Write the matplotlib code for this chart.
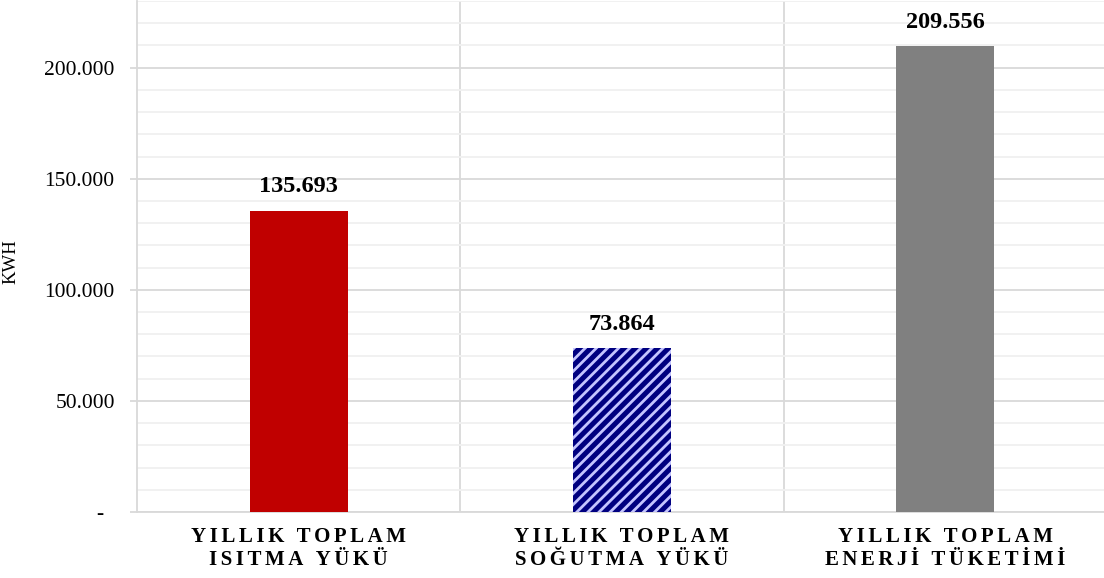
import matplotlib

matplotlib.use("Agg")
import matplotlib.pyplot as plt
from matplotlib.ticker import FuncFormatter, MultipleLocator

categories = ["YILLIK TOPLAM\nISITMA YÜKÜ", "YILLIK TOPLAM\nSOĞUTMA YÜKÜ", "YILLIK TOPLAM\nENERJİ TÜKETİMİ"]
values = [135693, 73864, 209556]
colors = ["#C00000", "#000080", "#808080"]
hatches = [None, "///", None]

plt.rcParams["font.family"] = ["Liberation Serif", "DejaVu Serif"]
plt.rcParams["hatch.linewidth"] = 2.0
plt.rcParams["hatch.color"] = "#C4C4FF"


def spaced(text: str) -> str:
    # widen letter spacing with pairs of hair spaces
    gap = "\u200a\u200a"
    lines = []
    for line in text.split("\n"):
        words = [gap.join(w) for w in line.split(" ")]
        lines.append((gap + " " + gap).join(words))
    return "\n".join(lines)


def thousands(v, _pos):
    if v == 0:
        return "-  "
    return f"{v:,.0f}".replace(",", ".")


fig = plt.figure(figsize=(11.04, 5.78), dpi=100)
ax = fig.add_axes([137 / 1104, 66 / 578, 970 / 1104, 511 / 578])

x = range(len(categories))
for i, (v, c, h) in enumerate(zip(values, colors, hatches)):
    ax.bar(i, v, width=0.304, color=c, hatch=h, edgecolor="#C4C4FF" if h else c,
           linewidth=0, zorder=3)
    ax.annotate(thousands(v, None), (i, v), xytext=(0, 9.5), textcoords="offset points",
                ha="center", va="bottom", fontsize=17.5, fontweight="bold", zorder=4)

ax.set_xlim(-0.5, 2.5)
ax.set_ylim(0, 230000)
ax.yaxis.set_major_locator(MultipleLocator(50000))
ax.yaxis.set_minor_locator(MultipleLocator(10000))
ax.yaxis.set_major_formatter(FuncFormatter(thousands))
ax.grid(which="major", axis="y", color="#D9D9D9", linewidth=1.3, zorder=0)
ax.grid(which="minor", axis="y", color="#F0F0F0", linewidth=1.3, zorder=0)
for b in (0.5, 1.5):
    ax.axvline(b, color="#D9D9D9", linewidth=1.3, zorder=1)

ax.set_xticks(list(x))
ax.set_xticklabels([spaced(c) for c in categories], fontsize=15, fontweight="bold",
                   linespacing=1.15)
ax.tick_params(axis="x", length=0, pad=11)
ax.tick_params(axis="y", which="major", length=5, color="#D9D9D9", width=1.3,
               labelsize=15.5, pad=11)
ax.tick_params(axis="y", which="minor", length=0)

for side in ("top", "right"):
    ax.spines[side].set_visible(False)
ax.spines["left"].set_color("#D9D9D9")
ax.spines["left"].set_linewidth(1.3)
ax.spines["bottom"].set_color("#D9D9D9")
ax.spines["bottom"].set_linewidth(1.3)

ax.set_ylabel("KWH", fontsize=13.5)
ax.yaxis.set_label_coords(-118 / 970, 0.49)

fig.savefig("out.png", dpi=100)
